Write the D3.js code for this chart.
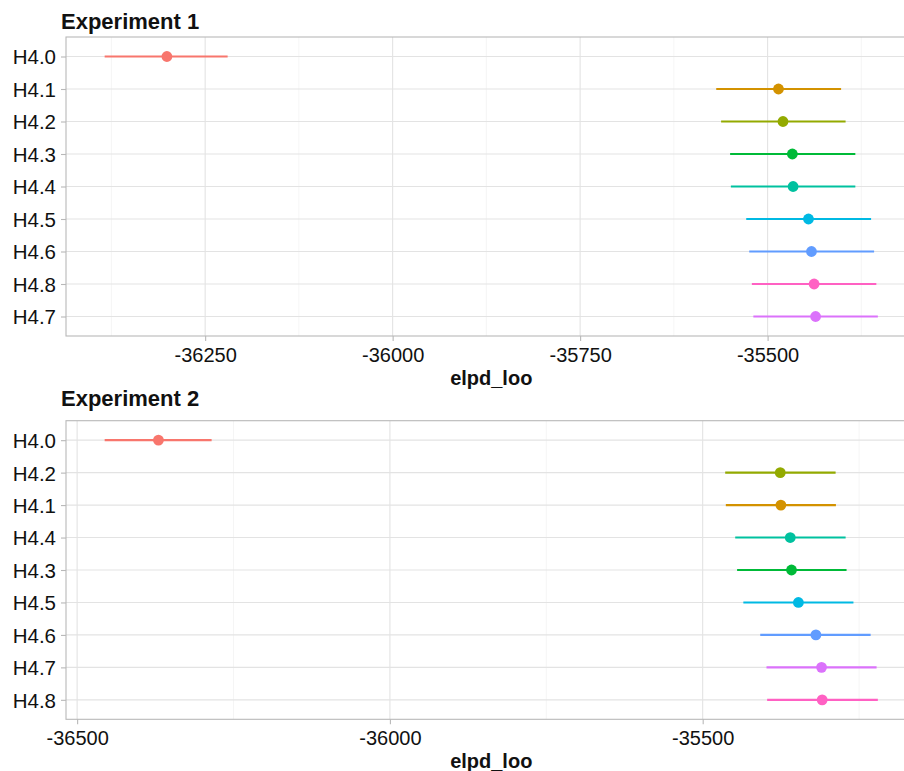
<!DOCTYPE html>
<html>
<head>
<meta charset="utf-8">
<script src="https://cdn.jsdelivr.net/npm/d3@7"></script>
<style>
  html, body { margin: 0; padding: 0; background: #fff; }
  svg { display: block; font-family: "Liberation Sans", Arial, Helvetica, sans-serif; }
</style>
</head>
<body>
<svg id="chart" width="904" height="771"></svg>
<script>
// Experiment 1: LOO estimates with interval bounds, in plotted row order
const exp1Models   = ["H4.0", "H4.1", "H4.2", "H4.3", "H4.4", "H4.5", "H4.6", "H4.8", "H4.7"];
const exp1Estimate = [-36301, -35485.5, -35479.5, -35467, -35466, -35445.5, -35441.5, -35438, -35436];
const exp1Lower    = [-36384, -35568.5, -35562, -35550, -35549, -35528.5, -35524.5, -35521, -35519];
const exp1Upper    = [-36220, -35402, -35396, -35383, -35383, -35362, -35358, -35355, -35353];
const exp1Ticks    = [-36250, -36000, -35750, -35500];
const exp1TickLabels = ["-36250", "-36000", "-35750", "-35500"];
const exp1Minor    = [-36375, -36125, -35875, -35625, -35375];

// Experiment 2
const exp2Models   = ["H4.0", "H4.2", "H4.1", "H4.4", "H4.3", "H4.5", "H4.6", "H4.7", "H4.8"];
const exp2Estimate = [-36370, -35376, -35375, -35360, -35358, -35347, -35319, -35310, -35309];
const exp2Lower    = [-36456, -35464, -35463, -35448, -35445, -35435, -35408, -35398, -35397];
const exp2Upper    = [-36285, -35287.5, -35287, -35271.5, -35270, -35259, -35231.5, -35222, -35220];
const exp2Ticks    = [-36500, -36000, -35500];
const exp2TickLabels = ["-36500", "-36000", "-35500"];
const exp2Minor    = [-36250, -35750, -35250];

// Hue palette keyed by model
const modelNames  = ["H4.0", "H4.1", "H4.2", "H4.3", "H4.4", "H4.5", "H4.6", "H4.7", "H4.8"];
const modelColors = ["#F8766D", "#D39200", "#93AA00", "#00BA38", "#00C19F", "#00B9E3", "#619CFF", "#DB72FB", "#FF61C3"];

const xTitle = "elpd_loo";
const color = d3.scaleOrdinal().domain(modelNames).range(modelColors);
const svg = d3.select("#chart");

function panel(cfg) {
  const { title, models, est, lo, hi, ticks, tickLabels, minor, top, bottom, titleY } = cfg;
  const left = 66, right = 916.5;
  const rows = models.map((m, i) => ({ model: m, est: est[i], lo: lo[i], hi: hi[i] }));

  const minV = d3.min(lo), maxV = d3.max(hi);
  const pad = (maxV - minV) * 0.05;
  const x = d3.scaleLinear().domain([minV - pad, maxV + pad]).range([left, right]);
  const y = d3.scalePoint().domain(models).range([top, bottom]).padding(0.6);

  const g = svg.append("g");

  // minor grid
  g.selectAll(".minor").data(minor).join("line")
    .attr("x1", d => x(d)).attr("x2", d => x(d))
    .attr("y1", top).attr("y2", bottom)
    .attr("stroke", "#EFEFEF").attr("stroke-width", 0.6);
  // major vertical grid
  g.selectAll(".vmaj").data(ticks).join("line")
    .attr("x1", d => x(d)).attr("x2", d => x(d))
    .attr("y1", top).attr("y2", bottom)
    .attr("stroke", "#E3E3E3").attr("stroke-width", 1.1);
  // horizontal grid
  g.selectAll(".hmaj").data(models).join("line")
    .attr("x1", left).attr("x2", right)
    .attr("y1", d => y(d)).attr("y2", d => y(d))
    .attr("stroke", "#E3E3E3").attr("stroke-width", 1.1);

  // panel border
  g.append("rect")
    .attr("x", left).attr("y", top)
    .attr("width", right - left).attr("height", bottom - top)
    .attr("fill", "none").attr("stroke", "#B8B8B8").attr("stroke-width", 1.1);

  // x axis
  const xAxis = d3.axisBottom(x).tickValues(ticks)
    .tickFormat((d, i) => tickLabels[i]).tickSize(5).tickPadding(4);
  const xa = g.append("g").attr("transform", `translate(0,${bottom})`).call(xAxis);
  xa.select(".domain").remove();
  xa.selectAll(".tick line").attr("stroke", "#B8B8B8").attr("stroke-width", 1.1);
  xa.selectAll(".tick text").attr("fill", "#111").attr("font-size", 20)
    .attr("dy", null).attr("y", 25.5);

  // y axis
  const yAxis = d3.axisLeft(y).tickSize(5).tickPadding(4);
  const ya = g.append("g").attr("transform", `translate(${left},0)`).call(yAxis);
  ya.select(".domain").remove();
  ya.selectAll(".tick line").attr("stroke", "#B8B8B8").attr("stroke-width", 1.1);
  ya.selectAll(".tick text").attr("fill", "#111").attr("font-size", 20.5)
    .attr("x", -10).attr("dy", "0.36em");

  // intervals
  g.selectAll(".interval").data(rows).join("line")
    .attr("x1", d => x(d.lo)).attr("x2", d => x(d.hi))
    .attr("y1", d => y(d.model)).attr("y2", d => y(d.model))
    .attr("stroke", d => color(d.model)).attr("stroke-width", 2.1);
  // points
  g.selectAll(".pt").data(rows).join("circle")
    .attr("cx", d => x(d.est)).attr("cy", d => y(d.model))
    .attr("r", 5.4).attr("fill", d => color(d.model));

  // title
  g.append("text").attr("x", 61).attr("y", titleY)
    .attr("font-size", 22).attr("font-weight", "bold").attr("fill", "#111")
    .text(title);
  // axis title
  g.append("text").attr("x", (left + right) / 2).attr("y", bottom + 48.5)
    .attr("text-anchor", "middle").attr("font-size", 20).attr("font-weight", "bold")
    .attr("fill", "#111").text(xTitle);
}

panel({ title: "Experiment 1", models: exp1Models, est: exp1Estimate, lo: exp1Lower, hi: exp1Upper,
        ticks: exp1Ticks, tickLabels: exp1TickLabels, minor: exp1Minor, top: 37, bottom: 336, titleY: 29 });
panel({ title: "Experiment 2", models: exp2Models, est: exp2Estimate, lo: exp2Lower, hi: exp2Upper,
        ticks: exp2Ticks, tickLabels: exp2TickLabels, minor: exp2Minor, top: 420.7, bottom: 719.3, titleY: 405.5 });
</script>
</body>
</html>
